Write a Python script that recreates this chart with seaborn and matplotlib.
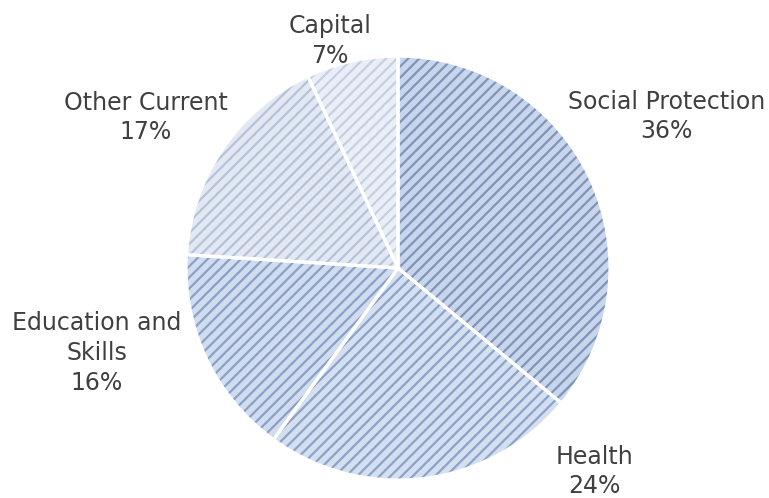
import matplotlib
matplotlib.use('Agg')
import matplotlib.pyplot as plt
import seaborn as sns

# data
categories = ['Social Protection', 'Health', 'Education and\nSkills', 'Other Current', 'Capital']
shares = [36, 24, 16, 17, 7]

# per-slice styling (base fill + stripe colour)
face_colors = ['#c8d5ea', '#d4dfef', '#d1ddef', '#e3e9f3', '#eaeef6']
stripe_colors = ['#7d95bb', '#8ba3c9', '#88a1c8', '#b5c3da', '#c6d0e2']

# label anchor points, in pie-radius units
label_pos = [(1.265, 0.715), (0.925, -0.96), (-1.42, -0.40), (-1.19, 0.71), (-0.32, 1.07)]

sns.set_theme(style='white')
plt.rcParams['font.family'] = ['DejaVu Sans']
plt.rcParams['hatch.linewidth'] = 1.6

fig = plt.figure(figsize=(7.69, 4.98), dpi=100)
ax = fig.add_axes([0.2419, 0.0361, 0.5514, 0.8514])

# hatched fill
wedges, _ = ax.pie(shares, startangle=90, counterclock=False, colors=face_colors,
                   wedgeprops=dict(linewidth=0))
for w, sc in zip(wedges, stripe_colors):
    w.set_hatch('///')
    w.set_edgecolor(sc)
    w.set_linewidth(0)

# white borders on top
ax.pie(shares, startangle=90, counterclock=False,
       wedgeprops=dict(fill=False, edgecolor='white', linewidth=2.3))

for cat, val, (x, y) in zip(categories, shares, label_pos):
    ax.text(x, y, f'{cat}\n{val}%', ha='center', va='center', fontsize=17,
            color='#404040', linespacing=1.3, clip_on=False)

ax.set_xlim(-1, 1)
ax.set_ylim(-1, 1)
ax.set_aspect('equal')
ax.axis('off')

fig.savefig('out.png', dpi=100)
